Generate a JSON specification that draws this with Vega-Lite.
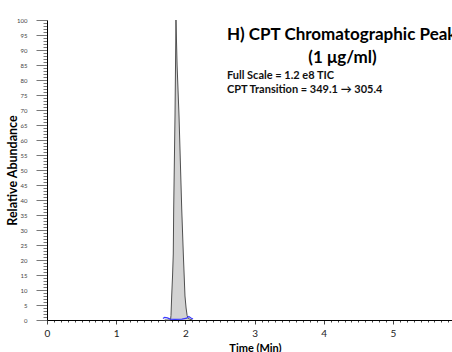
{
  "$schema": "https://vega.github.io/schema/vega-lite/v6.json",
  "width": 405,
  "height": 300,
  "autosize": "none",
  "padding": {"left": 47, "top": 20, "right": 0, "bottom": 32},
  "background": "white",
  "config": {"view": {"stroke": null}, "font": "Lato"},
  "resolve": {"axis": {"x": "independent", "y": "independent"}},
  "datasets": {
    "peak": [
      {"t": 1.70, "y": 0}, {"t": 1.785, "y": 0}, {"t": 1.792, "y": 1.5}, {"t": 1.802, "y": 8},
      {"t": 1.815, "y": 15}, {"t": 1.825, "y": 22}, {"t": 1.831, "y": 37}, {"t": 1.850, "y": 68},
      {"t": 1.864, "y": 100}, {"t": 1.880, "y": 85}, {"t": 1.908, "y": 68}, {"t": 1.947, "y": 37},
      {"t": 1.970, "y": 22}, {"t": 1.994, "y": 8}, {"t": 2.01, "y": 4}, {"t": 2.025, "y": 1.5},
      {"t": 2.04, "y": 0.5}, {"t": 2.10, "y": 0}
    ],
    "base": [
      {"t": 1.676, "y": 0.5}, {"t": 1.70, "y": 0.9}, {"t": 1.74, "y": 0.7}, {"t": 1.78, "y": 0.3},
      {"t": 1.85, "y": 0.2}, {"t": 1.95, "y": 0.3}, {"t": 2.02, "y": 0.6}, {"t": 2.05, "y": 1.2},
      {"t": 2.08, "y": 0.7}, {"t": 2.11, "y": 0.3}
    ]
  },
  "layer": [
    {
      "data": {"name": "peak"},
      "mark": {"type": "area", "color": "#c0c0c0", "line": {"color": "#505050", "strokeWidth": 1}},
      "encoding": {
        "x": {
          "field": "t", "type": "quantitative",
          "scale": {"domain": [0, 5.853], "nice": false, "zero": false},
          "axis": {
            "values": [0,0.1,0.2,0.3,0.4,0.5,0.6,0.7,0.8,0.9,1,1.1,1.2,1.3,1.4,1.5,1.6,1.7,1.8,1.9,2,2.1,2.2,2.3,2.4,2.5,2.6,2.7,2.8,2.9,3,3.1,3.2,3.3,3.4,3.5,3.6,3.7,3.8,3.9,4,4.1,4.2,4.3,4.4,4.5,4.6,4.7,4.8,4.9,5,5.1,5.2,5.3,5.4,5.5,5.6,5.7,5.8],
            "labelExpr": "abs(datum.value - round(datum.value)) < 0.001 ? format(round(datum.value), 'd') : ''",
            "labelOverlap": false,
            "labelFlush": false,
            "labelFontSize": 10,
            "labelColor": "#222222",
            "labelPadding": 4,
            "tickSize": {"condition": {"test": "abs(datum.value - round(datum.value)) < 0.001", "value": 4}, "value": 2},
            "tickColor": "#444444",
            "domainColor": "#000000",
            "domainWidth": 1.2,
            "grid": false,
            "title": "Time (Min)",
            "titleFontSize": 11,
            "titleFontWeight": "bold",
            "titleColor": "#000000",
            "titleX": 208,
            "titlePadding": 4
          }
        },
        "y": {
          "field": "y", "type": "quantitative",
          "scale": {"domain": [0, 100], "nice": false},
          "axis": {
            "values": [0,1,2,3,4,5,6,7,8,9,10,11,12,13,14,15,16,17,18,19,20,21,22,23,24,25,26,27,28,29,30,31,32,33,34,35,36,37,38,39,40,41,42,43,44,45,46,47,48,49,50,51,52,53,54,55,56,57,58,59,60,61,62,63,64,65,66,67,68,69,70,71,72,73,74,75,76,77,78,79,80,81,82,83,84,85,86,87,88,89,90,91,92,93,94,95,96,97,98,99,100],
            "labelExpr": "datum.value % 5 === 0 ? format(datum.value, 'd') : ''",
            "labelOverlap": false,
            "labelFlush": false,
            "labelFontSize": 6,
            "labelColor": "#444444",
            "labelPadding": 9,
            "tickSize": {"condition": {"test": "datum.value % 5 === 0", "value": 11}, "value": 4},
            "tickColor": "#555555",
            "tickWidth": 0.8,
            "domainColor": "#000000",
            "domainWidth": 1,
            "grid": false,
            "title": "Relative Abundance",
            "titleFontSize": 12.5,
            "titleFontWeight": "bold",
            "titleColor": "#000000",
            "titleX": -31,
            "titleY": 150,
            "titleAngle": -90,
            "titleAlign": "center",
            "titleBaseline": "alphabetic"
          }
        }
      }
    },
    {
      "data": {"name": "base"},
      "mark": {"type": "line", "color": "#3a3aff", "strokeWidth": 1.2},
      "encoding": {
        "x": {"field": "t", "type": "quantitative", "axis": null},
        "y": {"field": "y", "type": "quantitative", "axis": null}
      }
    },
    {
      "data": {"values": [{"label": "H) CPT Chromatographic Peak"}]},
      "mark": {"type": "text", "align": "left", "baseline": "middle", "fontSize": 17, "fontWeight": "bold", "color": "#000000"},
      "encoding": {"x": {"datum": 2.6, "axis": null}, "y": {"datum": 95, "axis": null}, "text": {"field": "label"}}
    },
    {
      "data": {"values": [{"label": "(1 μg/ml)"}]},
      "mark": {"type": "text", "align": "center", "baseline": "middle", "fontSize": 17, "fontWeight": "bold", "color": "#000000"},
      "encoding": {"x": {"datum": 4.27, "axis": null}, "y": {"datum": 87.3, "axis": null}, "text": {"field": "label"}}
    },
    {
      "data": {"values": [{"label": "Full Scale = 1.2 e8 TIC"}]},
      "mark": {"type": "text", "align": "left", "baseline": "middle", "fontSize": 11, "fontWeight": "bold", "color": "#111111"},
      "encoding": {"x": {"datum": 2.6, "axis": null}, "y": {"datum": 81.3, "axis": null}, "text": {"field": "label"}}
    },
    {
      "data": {"values": [{"label": "CPT Transition = 349.1 → 305.4"}]},
      "mark": {"type": "text", "align": "left", "baseline": "middle", "fontSize": 11, "fontWeight": "bold", "color": "#111111"},
      "encoding": {"x": {"datum": 2.6, "axis": null}, "y": {"datum": 76.7, "axis": null}, "text": {"field": "label"}}
    }
  ]
}
